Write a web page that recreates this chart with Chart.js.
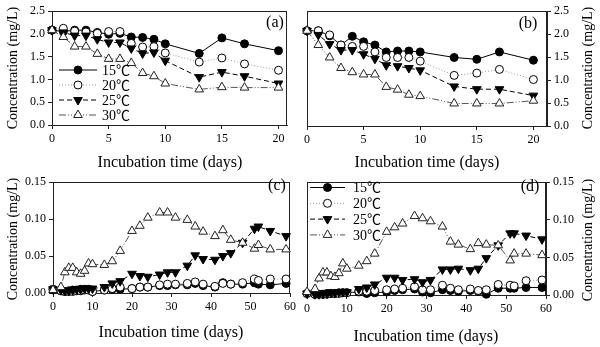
<!DOCTYPE html>
<html>
<head>
<meta charset="utf-8">
<title>Concentration vs incubation time</title>
<script src="https://cdn.jsdelivr.net/npm/chart.js"></script>
<style>
  html, body { margin: 0; padding: 0; background: #fff; }
  #fig { position: relative; width: 600px; height: 347px; background: #fff; overflow: hidden; }
  #fig canvas { position: absolute; }
</style>
</head>
<body>
<div id="fig">
  <canvas id="panelA" width="300" height="172" style="left:0;top:0;width:300px;height:172px"></canvas>
  <canvas id="panelB" width="300" height="172" style="left:300px;top:0;width:300px;height:172px"></canvas>
  <canvas id="panelC" width="300" height="175" style="left:0;top:172px;width:300px;height:175px"></canvas>
  <canvas id="panelD" width="300" height="175" style="left:300px;top:172px;width:300px;height:175px"></canvas>
</div>
<script>
// ---- data ----
const TEMPS = ['15℃', '20℃', '25℃', '30℃'];

const DAYS_20 = [0, 1, 2, 3, 4, 5, 6, 7, 8, 9, 10, 13, 15, 17, 20];

const A_15 = [2.08, 2.05, 2.08, 2.08, 2.03, 1.99, 2.01, 1.93, 1.92, 1.88, 1.78, 1.57, 1.91, 1.78, 1.63];
const A_20 = [2.08, 2.12, 2.06, 2.04, 2.01, 2.05, 2.05, 1.79, 1.71, 1.72, 1.58, 1.38, 1.47, 1.34, 1.20];
const A_25 = [2.08, 2.03, 1.96, 1.96, 1.88, 1.81, 1.81, 1.68, 1.57, 1.59, 1.41, 1.05, 1.16, 1.07, 0.91];
const A_30 = [2.08, 1.93, 1.72, 1.72, 1.56, 1.45, 1.45, 1.36, 1.14, 1.07, 0.91, 0.78, 0.83, 0.82, 0.82];

const B_15 = [2.07, 2.07, 1.96, 1.76, 1.95, 1.83, 1.76, 1.61, 1.63, 1.63, 1.61, 1.49, 1.45, 1.61, 1.43];
const B_20 = [2.07, 2.07, 1.98, 1.76, 1.73, 1.73, 1.61, 1.49, 1.49, 1.49, 1.41, 1.10, 1.15, 1.23, 1.01];
const B_25 = [2.07, 1.98, 1.78, 1.65, 1.65, 1.56, 1.46, 1.32, 1.30, 1.26, 1.21, 0.86, 0.80, 0.80, 0.66];
const B_30 = [2.07, 1.76, 1.49, 1.26, 1.17, 1.12, 1.12, 0.85, 0.79, 0.68, 0.65, 0.49, 0.49, 0.49, 0.55];

const DAYS_60 = [0, 2, 3, 4, 5, 6, 7, 8, 9, 10, 13, 15, 17, 20, 22, 24, 27, 29, 31, 34, 36, 38, 41, 43, 45, 48, 51, 52, 55, 59];

const C_15 = [0.005, 0.003, 0.002, 0.003, 0.004, 0.004, 0.005, 0.005, 0.005, 0.002, 0.004, 0.005, 0.005, 0.006, 0.008, 0.008, 0.010, 0.010, 0.011, 0.011, 0.013, 0.010, 0.008, 0.014, 0.012, 0.012, 0.014, 0.012, 0.011, 0.013];
const C_20 = [0.005, 0.003, 0.002, 0.002, 0.002, 0.003, 0.003, 0.004, 0.004, 0.002, 0.004, 0.006, 0.008, 0.006, 0.008, 0.008, 0.011, 0.012, 0.012, 0.013, 0.015, 0.012, 0.009, 0.013, 0.012, 0.014, 0.019, 0.017, 0.019, 0.019];
const C_25 = [0.005, 0.004, 0.003, 0.003, 0.004, 0.005, 0.005, 0.006, 0.006, 0.006, 0.008, 0.013, 0.016, 0.026, 0.023, 0.022, 0.025, 0.028, 0.028, 0.037, 0.051, 0.046, 0.045, 0.050, 0.054, 0.068, 0.087, 0.090, 0.084, 0.077];
const C_30 = [0.004, 0.008, 0.028, 0.034, 0.034, 0.028, 0.026, 0.030, 0.040, 0.039, 0.038, 0.043, 0.057, 0.084, 0.091, 0.102, 0.109, 0.109, 0.102, 0.099, 0.090, 0.083, 0.077, 0.085, 0.072, 0.068, 0.060, 0.065, 0.059, 0.059];

const D_15 = [0.002, 0.001, 0.001, 0.001, 0.002, 0.002, 0.002, 0.003, 0.003, 0.003, 0.004, 0.002, 0.003, 0.004, 0.006, 0.007, 0.008, 0.004, 0.003, 0.007, 0.006, 0.005, 0.006, 0.005, 0.001, 0.009, 0.009, 0.009, 0.010, 0.010];
const D_20 = [0.002, 0.001, 0.001, 0.001, 0.001, 0.002, 0.002, 0.002, 0.003, 0.003, 0.005, 0.005, 0.006, 0.007, 0.008, 0.009, 0.011, 0.007, 0.007, 0.013, 0.009, 0.007, 0.008, 0.006, 0.007, 0.014, 0.013, 0.012, 0.019, 0.020];
const D_25 = [0.002, 0.001, 0.001, 0.002, 0.002, 0.003, 0.003, 0.004, 0.004, 0.004, 0.008, 0.010, 0.014, 0.023, 0.023, 0.020, 0.021, 0.017, 0.020, 0.034, 0.034, 0.035, 0.033, 0.035, 0.049, 0.066, 0.082, 0.082, 0.079, 0.074];
const D_30 = [0.004, 0.008, 0.022, 0.030, 0.030, 0.025, 0.024, 0.029, 0.042, 0.035, 0.039, 0.045, 0.055, 0.084, 0.090, 0.095, 0.105, 0.102, 0.098, 0.091, 0.071, 0.067, 0.061, 0.069, 0.067, 0.066, 0.046, 0.055, 0.055, 0.053];

const Y_TITLE = 'Concentration (mg/L)';
const X_TITLE = 'Incubation time (days)';

// ---- series styles ----
const SERIF = '"Liberation Serif", "Times New Roman", "Noto Sans CJK SC", serif';
const STYLES = [
  { borderColor: '#000', borderDash: [], pointStyle: 'circle', pointRadius: 4,
    pointBackgroundColor: '#000', pointBorderColor: '#000', pointRotation: 0 },
  { borderColor: '#9a9a9a', borderDash: [1, 2], pointStyle: 'circle', pointRadius: 4,
    pointBackgroundColor: '#fff', pointBorderColor: '#000', pointRotation: 0 },
  { borderColor: '#000', borderDash: [5, 3], pointStyle: 'triangle', pointRadius: 5,
    pointBackgroundColor: '#000', pointBorderColor: '#000', pointRotation: 180 },
  { borderColor: '#555', borderDash: [7, 2, 1, 2, 1, 2], pointStyle: 'triangle', pointRadius: 5,
    pointBackgroundColor: '#fff', pointBorderColor: '#222', pointRotation: 0 }
];

// frame, axis titles, panel tag and in-plot legend
const panelDecor = {
  id: 'panelDecor',
  beforeDatasetsDraw(chart) {
    const { ctx, chartArea: a } = chart;
    ctx.save();
    ctx.strokeStyle = '#222';
    ctx.lineWidth = 1;
    ctx.strokeRect(Math.round(a.left) + 0.5, Math.round(a.top) + 0.5,
                   Math.round(a.right - a.left) - 1, Math.round(a.bottom - a.top));
    ctx.restore();
  },
  afterDraw(chart, args, o) {
    const { ctx } = chart;
    ctx.save();
    ctx.fillStyle = '#000';
    ctx.textAlign = 'center';
    ctx.textBaseline = 'middle';
    // x title
    ctx.font = '16px ' + SERIF;
    ctx.fillText(X_TITLE, o.xTitle[0], o.xTitle[1]);
    // y title, reading bottom to top
    ctx.save();
    ctx.translate(o.yTitle[0], o.yTitle[1]);
    ctx.rotate(-Math.PI / 2);
    ctx.font = '14px ' + SERIF;
    ctx.fillText(Y_TITLE, 0, 0);
    ctx.restore();
    // panel tag
    ctx.font = '16px ' + SERIF;
    ctx.fillText(o.tag, o.tagPos[0], o.tagPos[1]);
    ctx.restore();

    if (o.legend) {
      const L = o.legend;
      chart.data.datasets.forEach((ds, i) => {
        const y = L.y + i * L.dy;
        ctx.save();
        ctx.strokeStyle = ds.borderColor;
        ctx.lineWidth = 1;
        ctx.setLineDash(ds.borderDash || []);
        ctx.beginPath();
        ctx.moveTo(L.x0, y);
        ctx.lineTo(L.x1, y);
        ctx.stroke();
        ctx.setLineDash([]);
        ctx.fillStyle = ds.pointBackgroundColor;
        ctx.strokeStyle = ds.pointBorderColor;
        ctx.lineWidth = 1;
        Chart.helpers.drawPoint(ctx, {
          pointStyle: ds.pointStyle, rotation: ds.pointRotation,
          radius: ds.pointRadius, borderWidth: 1
        }, (L.x0 + L.x1) / 2, y);
        ctx.fillStyle = '#000';
        ctx.font = '14px ' + SERIF;
        ctx.textAlign = 'left';
        ctx.textBaseline = 'middle';
        ctx.fillText(ds.label, L.tx, y + 1);
        ctx.restore();
      });
    }
  }
};

function makePanel(id, cfg) {
  const el = document.getElementById(id);
  const W = el.width, H = el.height, A = cfg.area;
  const tickFont = { family: SERIF, size: 12 };
  const grid = { drawOnChartArea: false, drawTicks: true, tickLength: 4, color: '#222', lineWidth: 1 };
  const border = { display: true, color: '#222', width: 1 };
  return new Chart(el, {
    type: 'line',
    data: {
      datasets: cfg.series.map((vals, i) => Object.assign({
        label: TEMPS[i],
        data: cfg.days.map((d, j) => ({ x: d, y: vals[j] })),
        borderWidth: 1,
        pointBorderWidth: 1,
        fill: false,
        tension: 0,
        clip: false,
        order: 4 - i
      }, STYLES[i]))
    },
    options: {
      responsive: false,
      animation: false,
      devicePixelRatio: 1,
      events: [],
      layout: {
        padding: {
          left: cfg.yPos === 'left' ? 0 : A.left,
          right: cfg.yPos === 'right' ? 0 : W - A.right,
          top: A.top,
          bottom: 0
        }
      },
      plugins: {
        legend: { display: false },
        tooltip: { enabled: false },
        panelDecor: cfg.decor
      },
      scales: {
        x: {
          type: 'linear', min: 0, max: cfg.xMax,
          afterFit(s) { s.height = H - A.bottom; },
          ticks: { stepSize: cfg.xStep, includeBounds: false, autoSkip: false, maxRotation: 0,
                   font: tickFont, color: '#000', padding: 3 },
          grid, border
        },
        y: {
          type: 'linear', position: cfg.yPos, min: 0, max: cfg.yMax,
          afterFit(s) { s.width = cfg.yPos === 'left' ? A.left : W - A.right; },
          ticks: { stepSize: cfg.yStep, includeBounds: false, autoSkip: false,
                   callback: v => Number(v).toFixed(cfg.dec),
                   font: tickFont, color: '#000', padding: 3 },
          grid, border
        }
      }
    },
    plugins: [panelDecor]
  });
}

makePanel('panelA', {
  days: DAYS_20, series: [A_15, A_20, A_25, A_30],
  xMax: 20.75, xStep: 5, yMax: 2.5, yStep: 0.5, dec: 1, yPos: 'left',
  area: { left: 52, right: 287, top: 11, bottom: 125 },
  decor: { xTitle: [170, 163], yTitle: [13, 68], tag: '(a)', tagPos: [275, 23],
           legend: { x0: 59, x1: 97, tx: 102, y: 70, dy: 15 } }
});

makePanel('panelB', {
  days: DAYS_20, series: [B_15, B_20, B_25, B_30],
  xMax: 21.2, xStep: 5, yMax: 2.5, yStep: 0.5, dec: 1, yPos: 'right',
  area: { left: 7, right: 247, top: 11, bottom: 126 },
  decor: { xTitle: [127, 163], yTitle: [288, 68], tag: '(b)', tagPos: [228, 24] }
});

makePanel('panelC', {
  days: DAYS_60, series: [C_15, C_20, C_25, C_30],
  xMax: 60, xStep: 10, yMax: 0.15, yStep: 0.05, dec: 2, yPos: 'left',
  area: { left: 53, right: 290, top: 8, bottom: 121 },
  decor: { xTitle: [171, 161], yTitle: [13, 67], tag: '(c)', tagPos: [277, 14] }
});

makePanel('panelD', {
  days: DAYS_60, series: [D_15, D_20, D_25, D_30],
  xMax: 60, xStep: 10, yMax: 0.15, yStep: 0.05, dec: 2, yPos: 'right',
  area: { left: 7, right: 246, top: 7, bottom: 123 },
  decor: { xTitle: [126, 165], yTitle: [288, 68], tag: '(d)', tagPos: [230, 15],
           legend: { x0: 10, x1: 45, tx: 53, y: 15.5, dy: 15.8 } }
});
</script>
</body>
</html>
